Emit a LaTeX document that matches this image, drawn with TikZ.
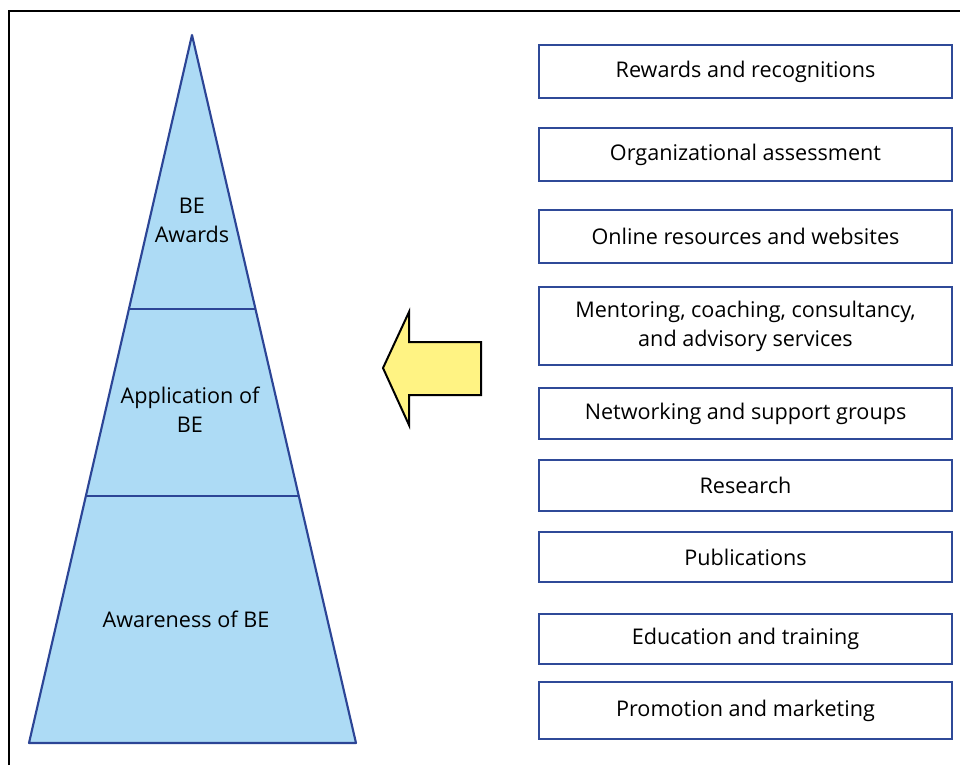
\documentclass[tikz,border=0pt]{standalone}
\usepackage{fontspec}
\setmainfont{Open Sans}
\definecolor{pyrfill}{HTML}{ADDBF5}
\definecolor{pyrline}{HTML}{2C4596}
\definecolor{boxline}{HTML}{2F4A98}
\definecolor{arrowfill}{HTML}{FFF383}
\begin{document}
\begin{tikzpicture}[x=0.75pt,y=-0.75pt]
\tikzset{
  item/.style={draw=boxline, line width=1.6pt, minimum width=309.75pt, align=center, inner sep=0pt,
    font=\fontsize{16.2}{21.75}\selectfont},
  label/.style={align=center, inner sep=0pt, font=\fontsize{16.2}{21.75}\selectfont},
  pyr/.style={draw=pyrline, line width=1.6pt, line join=round}
}
\useasboundingbox (0,0) rectangle (960,765);
\fill[white] (0,0) rectangle (960,765);
% frame
\draw[line width=1.6pt] (9,765) -- (9,11) -- (960,11);
% pyramid
\coordinate (apex) at (192,35);
\coordinate (bl) at (29,743);
\coordinate (br) at (356,743);
\coordinate (l1) at (129.5,309);
\coordinate (r1) at (255,309);
\coordinate (l2) at (86.5,496);
\coordinate (r2) at (298.5,496);
\fill[pyrfill] (apex) -- (br) -- (bl) -- cycle;
\draw[pyr] (apex) -- (br) -- (bl) -- cycle;
\draw[pyr] (l1) -- (r1);
\draw[pyr] (l2) -- (r2);
\node[label] (awards) at (192,220) {BE\\Awards};
\node[label] (application) at (190,409.5) {Application of\\BE};
\node[label] (awareness) at (186,619) {Awareness of BE};
% arrow
\draw[fill=arrowfill, line width=1.5pt, line join=miter]
  (481,342) -- (409,342) -- (409,312) -- (383,368) -- (409,425) -- (409,395) -- (481,395) -- cycle;
% boxes
\node[item, minimum height=39.75pt] (b1) at (745.5,71.5) {Rewards and recognitions};
\node[item, minimum height=39.75pt] (b2) at (745.5,154.5) {Organizational assessment};
\node[item, minimum height=39.75pt] (b3) at (745.5,236.5) {Online resources and websites};
\node[item, minimum height=58.5pt] (b4) at (745.5,326) {Mentoring, coaching, consultancy,\\and advisory services};
\node[item, minimum height=38.25pt] (b5) at (745.5,413.5) {Networking and support groups};
\node[item, minimum height=38.25pt] (b6) at (745.5,485.5) {Research};
\node[item, minimum height=37.5pt] (b7) at (745.5,557) {Publications};
\node[item, minimum height=37.5pt] (b8) at (745.5,639) {Education and training};
\node[item, minimum height=42.75pt] (b9) at (745.5,710.5) {Promotion and marketing};
\end{tikzpicture}
\end{document}
